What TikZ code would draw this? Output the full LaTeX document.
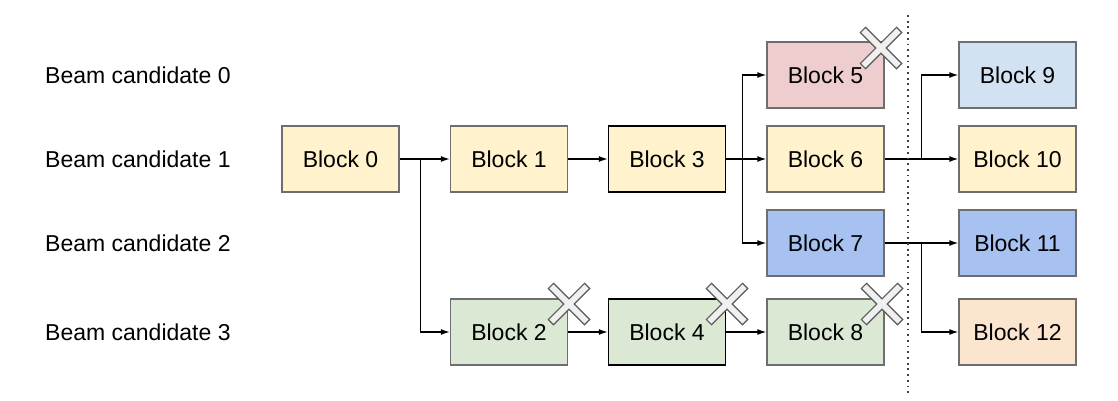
\documentclass[tikz,border=0pt]{standalone}
\usepackage{fontspec}
\setmainfont{Liberation Sans}
\usetikzlibrary{arrows.meta}

\definecolor{boxgray}{HTML}{6E6E6E}
\definecolor{fillyellow}{HTML}{FFF2CC}
\definecolor{fillred}{HTML}{EDCDCD}
\definecolor{fillsky}{HTML}{D2E2F2}
\definecolor{fillblue}{HTML}{A7C2F0}
\definecolor{fillgreen}{HTML}{DAE8D4}
\definecolor{fillorange}{HTML}{FBE5CF}
\definecolor{crossgray}{HTML}{5A5A5A}
\definecolor{crossfill}{HTML}{F0F0F0}

\tikzset{
  block/.style={draw=boxgray, line width=1.3pt, minimum width=117pt, minimum height=66pt,
    inner sep=0pt, font=\fontsize{23}{27}\selectfont},
  beam/.style={anchor=west, inner sep=0pt, font=\fontsize{23}{27}\selectfont},
  link/.style={line width=1.3pt, -{Latex[length=9pt,width=6pt]}},
}

% a cross over a dropped block
\newcommand{\crossmark}[2]{
\begin{scope}[shift={(#1,#2)}]
\draw [line width=8.5pt, crossgray] (-18.5,-18.5) -- (18.5,18.5);
\draw [line width=8.5pt, crossgray] (-18.5,18.5) -- (18.5,-18.5);
\draw [line width=5.9pt, crossfill] (-17.6,-17.6) -- (17.6,17.6);
\draw [line width=5.9pt, crossfill] (-17.6,17.6) -- (17.6,-17.6);
\end{scope}
}

\begin{document}
\begin{tikzpicture}[x=1pt,y=-1pt]
\useasboundingbox (0,0) rectangle (1118,400);

\node [beam] (c0) at (45,75) {Beam candidate 0};
\node [beam] (c1) at (45,159) {Beam candidate 1};
\node [beam] (c2) at (45,243) {Beam candidate 2};
\node [beam] (c3) at (45,332) {Beam candidate 3};

\node [block, fill=fillyellow] (b0) at (340.5,159) {Block 0};
\node [block, fill=fillyellow] (b1) at (509,159) {Block 1};
\node [block, fill=fillgreen] (b2) at (509,332) {Block 2};
\node [block, fill=fillyellow, draw=black] (b3) at (667,159) {Block 3};
\node [block, fill=fillgreen, draw=black] (b4) at (667,332) {Block 4};
\node [block, fill=fillred] (b5) at (825.5,75) {Block 5};
\node [block, fill=fillyellow] (b6) at (825.5,159) {Block 6};
\node [block, fill=fillblue] (b7) at (825.5,243) {Block 7};
\node [block, fill=fillgreen] (b8) at (825.5,332) {Block 8};
\node [block, fill=fillsky] (b9) at (1017.5,75) {Block 9};
\node [block, fill=fillyellow] (b10) at (1017.5,159) {Block 10};
\node [block, fill=fillblue] (b11) at (1017.5,243) {Block 11};
\node [block, fill=fillorange] (b12) at (1017.5,332) {Block 12};

\draw [link] (b0.east) -- (b1.west);
\draw [link] (b0.east) -- ++(21,0) |- (b2.west);
\draw [link] (b1.east) -- (b3.west);
\draw [link] (b2.east) -- (b4.west);
\draw [link] (b4.east) -- (b8.west);
\draw [link] (b3.east) -- ++(16,0) |- (b5.west);
\draw [link] (b3.east) -- (b6.west);
\draw [link] (b3.east) -- ++(16,0) |- (b7.west);
\draw [link] (b6.east) -- ++(37,0) |- (b9.west);
\draw [link] (b6.east) -- (b10.west);
\draw [link] (b7.east) -- (b11.west);
\draw [link] (b7.east) -- ++(37,0) |- (b12.west);

\draw [line width=1.8pt, dash pattern=on 1.8pt off 3.9pt, black!75] (908,15) -- (908,396);

\crossmark{881}{48}
\crossmark{569}{304}
\crossmark{727}{304}
\crossmark{882}{304}
\end{tikzpicture}
\end{document}
